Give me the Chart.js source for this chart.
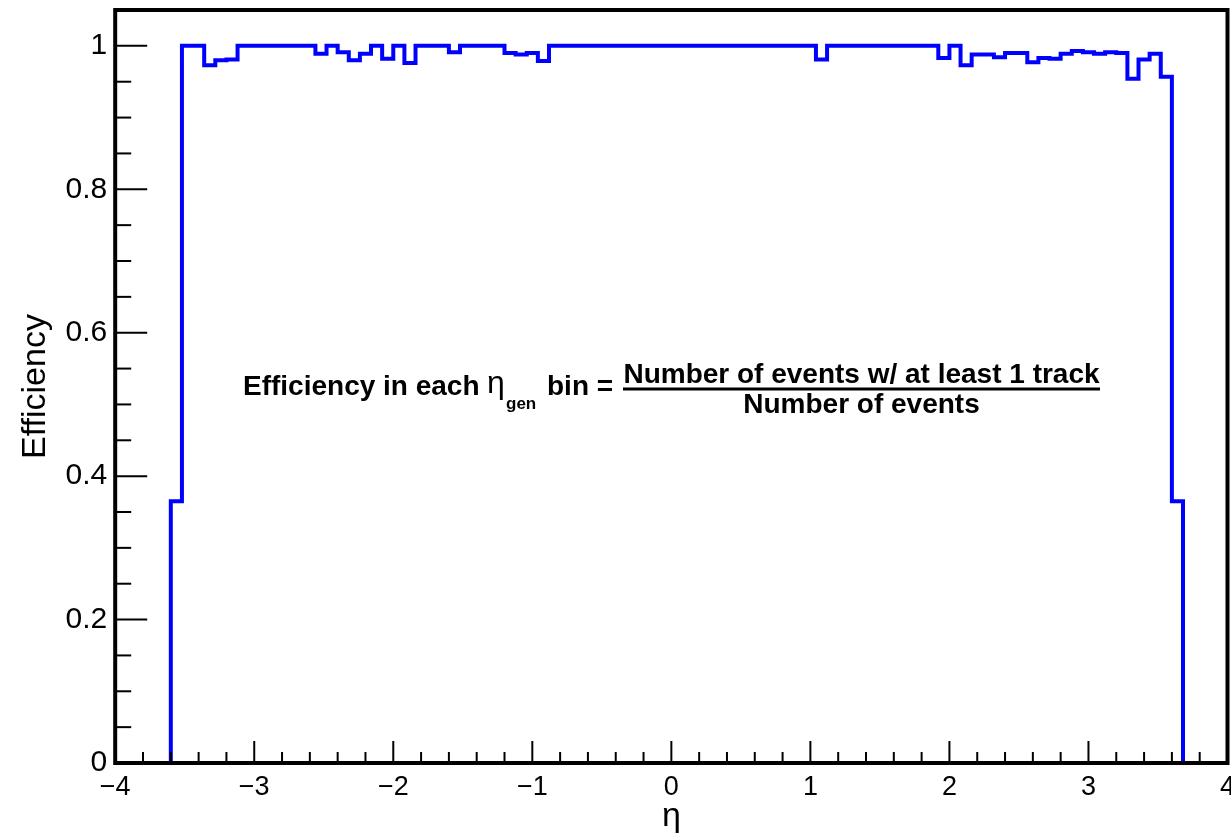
<!DOCTYPE html>
<html>
<head>
<meta charset="utf-8">
<script src="https://cdn.jsdelivr.net/npm/chart.js@4.4.1/dist/chart.umd.min.js"></script>
<style>
  body { margin: 0; background: #fff; }
  #wrap { width: 1231px; height: 834px; }
</style>
</head>
<body>
<div id="wrap"><canvas id="effChart"></canvas></div>
<script>
// eta binning: 100 bins from -4 to 4
const etaMin = -4;
const etaMax = 4;
const binWidth = 0.08;

// efficiency per eta bin
const efficiency = [
  0, 0, 0, 0, 0, 0.365, 1, 1, 0.973, 0.980,
  0.981, 1, 1, 1, 1, 1, 1, 1, 0.989, 1,
  0.991, 0.980, 0.989, 1, 0.982, 1, 0.976, 1, 1, 1,
  0.991, 1, 1, 1, 1, 0.990, 0.988, 0.990, 0.979, 1,
  1, 1, 1, 1, 1, 1, 1, 1, 1, 1,
  1, 1, 1, 1, 1, 1, 1, 1, 1, 1,
  1, 1, 1, 0.981, 1, 1, 1, 1, 1, 1,
  1, 1, 1, 1, 0.983, 1, 0.973, 0.988, 0.988, 0.984,
  0.990, 0.990, 0.977, 0.983, 0.982, 0.989, 0.993, 0.991, 0.989, 0.991,
  0.990, 0.954, 0.981, 0.989, 0.957, 0.365, 0, 0, 0, 0
];

const xMajorTicks = [-4, -3, -2, -1, 0, 1, 2, 3, 4];
const yMajorTicks = [0, 0.2, 0.4, 0.6, 0.8, 1];

// histogram outline: one point per low bin edge, plus the last upper edge
const histPoints = efficiency.map((v, i) => ({ x: etaMin + i * binWidth, y: v }));
histPoints.push({ x: etaMax, y: efficiency[efficiency.length - 1] });

const isMajor = (v, list) => list.some(m => Math.abs(m - v) < 1e-6);

// ROOT style frame with inward ticks
const rootFrame = {
  id: 'rootFrame',
  afterDatasetsDraw(chart) {
    const { ctx, chartArea: a, scales: { x, y } } = chart;
    ctx.save();
    ctx.strokeStyle = '#000';
    ctx.lineWidth = 2;
    x.ticks.forEach(t => {
      const px = x.getPixelForValue(t.value);
      const len = isMajor(t.value, xMajorTicks) ? 22 : 11;
      ctx.beginPath();
      ctx.moveTo(px, a.bottom);
      ctx.lineTo(px, a.bottom - len);
      ctx.stroke();
    });
    y.ticks.forEach(t => {
      const py = y.getPixelForValue(t.value);
      const len = isMajor(t.value, yMajorTicks) ? 32 : 16;
      ctx.beginPath();
      ctx.moveTo(a.left, py);
      ctx.lineTo(a.left + len, py);
      ctx.stroke();
    });
    ctx.lineWidth = 4;
    ctx.strokeRect(a.left, a.top, a.right - a.left, a.bottom - a.top);
    ctx.restore();
  }
};

// the formula written inside the plot
const formulaText = {
  id: 'formulaText',
  afterDraw(chart) {
    const ctx = chart.ctx;
    ctx.save();
    ctx.fillStyle = '#000';
    ctx.textBaseline = 'alphabetic';
    ctx.textAlign = 'left';
    ctx.font = 'bold 28px "Liberation Sans", Arial, sans-serif';
    ctx.fillText('Efficiency in each', 243, 395);
    ctx.font = '32px "Liberation Sans", Arial, sans-serif';
    ctx.fillText('η', 487, 393);
    ctx.font = 'bold 17px "Liberation Sans", Arial, sans-serif';
    ctx.fillText('gen', 506, 409);
    ctx.font = 'bold 28px "Liberation Sans", Arial, sans-serif';
    ctx.fillText('bin =', 547, 395);
    ctx.textAlign = 'center';
    ctx.fillText('Number of events w/ at least 1 track', 861.5, 383);
    ctx.fillText('Number of events', 861.5, 413);
    ctx.lineWidth = 3;
    ctx.beginPath();
    ctx.moveTo(623, 389);
    ctx.lineTo(1100, 389);
    ctx.stroke();
    ctx.restore();
  }
};

new Chart(document.getElementById('effChart'), {
  type: 'line',
  data: {
    datasets: [{
      label: 'Efficiency',
      data: histPoints,
      stepped: 'before',
      borderColor: '#0000ff',
      borderWidth: 4,
      pointRadius: 0,
      fill: false,
      tension: 0
    }]
  },
  options: {
    responsive: true,
    maintainAspectRatio: false,
    animation: false,
    layout: { padding: { left: 0, right: 3.5, top: 10, bottom: 0 } },
    plugins: {
      legend: { display: false },
      tooltip: { enabled: false }
    },
    scales: {
      x: {
        type: 'linear',
        min: etaMin,
        max: etaMax,
        afterFit: s => {
          s.height = 71;
          s.paddingLeft = 0;
          s.paddingRight = 0;
        },
        grid: { display: false, drawTicks: false },
        border: { display: false },
        ticks: {
          stepSize: 0.2,
          autoSkip: false,
          maxRotation: 0,
          padding: 8,
          color: '#000',
          font: { family: '"Liberation Sans", Arial, sans-serif', size: 27 },
          callback: v => {
            if (!isMajor(v, xMajorTicks)) return '';
            const r = Math.round(v);
            return r < 0 ? '\u2212' + Math.abs(r) : String(r);
          }
        },
        title: {
          display: true,
          text: 'η',
          color: '#000',
          padding: { top: 0, bottom: 0 },
          font: { family: '"Liberation Sans", Arial, sans-serif', size: 34, lineHeight: 1.0 }
        }
      },
      y: {
        min: 0,
        max: 1.05,
        afterFit: s => {
          s.width = 115.2;
          s.paddingTop = 0;
          s.paddingBottom = 0;
        },
        grid: { display: false, drawTicks: false },
        border: { display: false },
        ticks: {
          stepSize: 0.05,
          autoSkip: false,
          padding: 8,
          color: '#000',
          font: { family: '"Liberation Sans", Arial, sans-serif', size: 30 },
          callback: v => isMajor(v, yMajorTicks) ? String(Number(v.toFixed(1))) : ''
        },
        title: {
          display: true,
          text: 'Efficiency',
          color: '#000',
          padding: { top: 15, bottom: 0 },
          font: { family: '"Liberation Sans", Arial, sans-serif', size: 34 }
        }
      }
    }
  },
  plugins: [rootFrame, formulaText]
});
</script>
</body>
</html>
